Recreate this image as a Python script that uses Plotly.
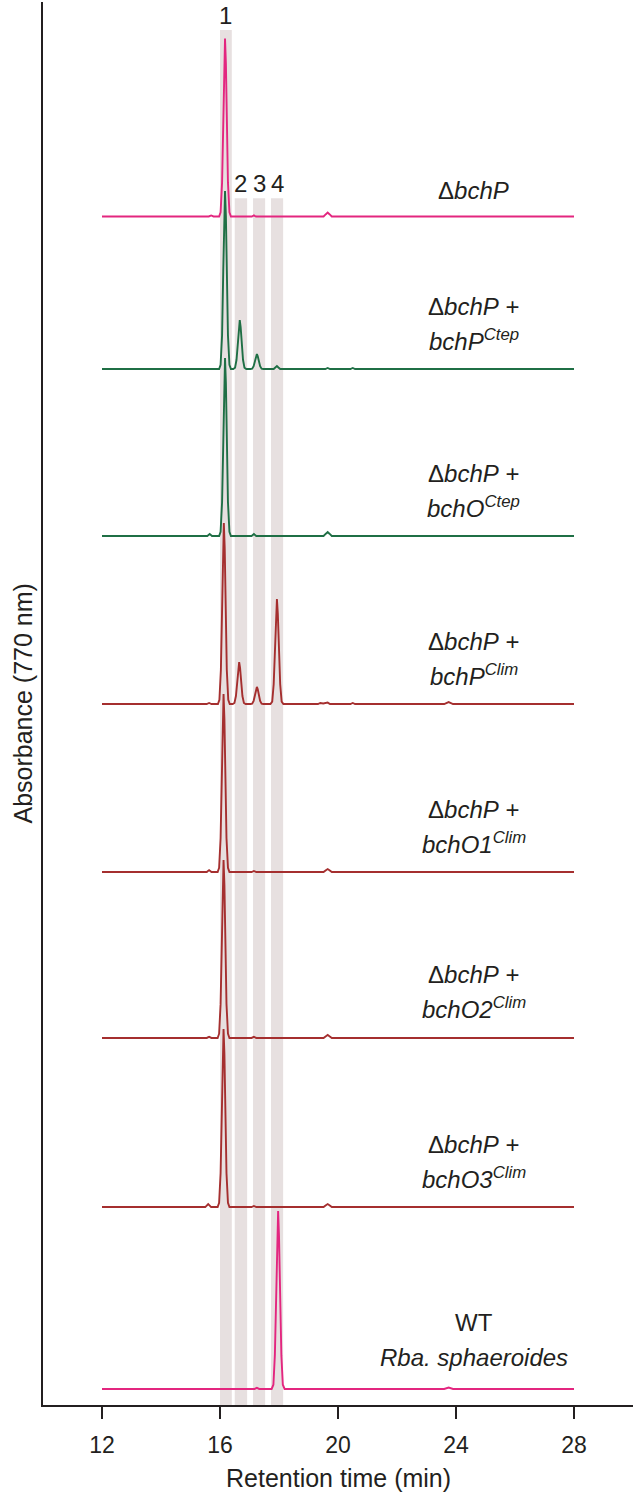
import plotly.graph_objects as go

# ---------------- data ----------------
# absorbance in relative units (main peak 1 of each trace ~ 100)
t_dbchP = [12, 15.62, 15.7, 15.78, 15.97, 16.02, 16.07, 16.11, 16.14, 16.17, 16.20, 16.23, 16.27, 16.32, 16.37,
           17.08, 17.15, 17.22, 19.51, 19.59, 19.65, 19.71, 19.79, 28]
a_dbchP = [0, 0, 0.6, 0, 0, 2.4, 19, 55, 86, 100, 86, 55, 19, 2.4, 0,
           0, 0.6, 0, 0, 1.3, 2.2, 1.3, 0, 0]

t_bchP_ctep = [12, 15.97, 16.02, 16.07, 16.11, 16.14, 16.17, 16.20, 16.23, 16.27, 16.32, 16.37,
               16.45, 16.51, 16.56, 16.60, 16.64, 16.67, 16.70, 16.74, 16.78, 16.83, 16.89,
               17.03, 17.09, 17.14, 17.18, 17.22, 17.25, 17.28, 17.32, 17.36, 17.41, 17.47,
               17.82, 17.88, 17.93, 17.98, 18.04, 19.57, 19.65, 19.73, 20.42, 20.5, 20.58, 28]
a_bchP_ctep = [0, 0, 2.4, 19, 55, 86, 100, 86, 55, 19, 2.4, 0,
               0, 0.7, 5.2, 15, 23.6, 27.5, 23.6, 15, 5.2, 0.7, 0,
               0, 0.2, 1.6, 4.6, 7.2, 8.4, 7.2, 4.6, 1.6, 0.2, 0,
               0, 0.9, 1.7, 0.9, 0, 0, 0.6, 0, 0, 0.6, 0, 0]

t_bchO_ctep = [12, 15.57, 15.65, 15.73, 15.97, 16.02, 16.07, 16.11, 16.14, 16.17, 16.20, 16.23, 16.27, 16.32, 16.37,
               17.07, 17.15, 17.23, 19.51, 19.59, 19.65, 19.71, 19.79, 28]
a_bchO_ctep = [0, 0, 1.1, 0, 0, 2.4, 19, 55, 86, 100, 86, 55, 19, 2.4, 0,
               0, 1.1, 0, 0, 1.3, 2.2, 1.3, 0, 0]

t_bchP_clim = [12, 15.55, 15.63, 15.71, 15.93, 15.98, 16.03, 16.07, 16.10, 16.13, 16.16, 16.19, 16.23, 16.28, 16.33,
               16.43, 16.49, 16.54, 16.58, 16.62, 16.65, 16.68, 16.72, 16.76, 16.81, 16.87,
               17.03, 17.09, 17.14, 17.18, 17.22, 17.25, 17.28, 17.32, 17.36, 17.41, 17.47,
               17.71, 17.77, 17.82, 17.86, 17.90, 17.93, 17.96, 18.00, 18.04, 18.09, 18.15,
               19.32, 19.4, 19.5, 19.57, 19.65, 19.73, 20.42, 20.5, 20.58, 23.6, 23.75, 23.9, 28]
a_bchP_clim = [0, 0, 0.6, 0, 0, 2.4, 19.3, 56, 87.5, 101.7, 87.5, 56, 19.3, 2.4, 0,
               0, 0.6, 4.5, 13, 20.3, 23.6, 20.3, 13, 4.5, 0.6, 0,
               0, 0.2, 1.8, 5.3, 8.3, 9.6, 8.3, 5.3, 1.8, 0.2, 0,
               0, 1.4, 11.2, 32.5, 50.7, 59, 50.7, 32.5, 11.2, 1.4, 0,
               0, 0.6, 0.3, 0.5, 0.8, 0, 0, 0.6, 0, 0, 1.1, 0, 0]

t_bchO1_clim = [12, 15.55, 15.63, 15.71, 15.92, 15.97, 16.02, 16.06, 16.09, 16.12, 16.15, 16.18, 16.22, 16.27, 16.32,
                17.07, 17.15, 17.23, 19.51, 19.59, 19.65, 19.71, 19.79, 28]
a_bchO1_clim = [0, 0, 1.1, 0, 0, 2.4, 19, 55, 86, 100, 86, 55, 19, 2.4, 0,
                0, 0.6, 0, 0, 1.0, 1.7, 1.0, 0, 0]

t_bchO2_clim = [12, 15.55, 15.63, 15.71, 15.92, 15.97, 16.02, 16.06, 16.09, 16.12, 16.15, 16.18, 16.22, 16.27, 16.32,
                17.07, 17.15, 17.23, 19.51, 19.59, 19.65, 19.71, 19.79, 28]
a_bchO2_clim = [0, 0, 0.6, 0, 0, 2.4, 19, 55, 86, 100, 86, 55, 19, 2.4, 0,
                0, 0.6, 0, 0, 1.0, 1.7, 1.0, 0, 0]

t_bchO3_clim = [12, 15.5, 15.6, 15.7, 15.92, 15.97, 16.02, 16.06, 16.09, 16.12, 16.15, 16.18, 16.22, 16.27, 16.32,
                17.07, 17.15, 17.23, 19.51, 19.59, 19.65, 19.71, 19.79, 28]
a_bchO3_clim = [0, 0, 1.7, 0, 0, 2.4, 19, 55, 86, 100, 86, 55, 19, 2.4, 0,
                0, 0.6, 0, 0, 1.0, 1.7, 1.0, 0, 0]

t_wt = [12, 17.17, 17.25, 17.33, 17.75, 17.81, 17.86, 17.90, 17.94, 17.97, 18.00, 18.04, 18.08, 18.13, 18.19,
        23.6, 23.75, 23.9, 28]
a_wt = [0, 0, 0.6, 0, 0, 2.4, 19, 55, 86, 100, 86, 55, 19, 2.4, 0,
        0, 0.8, 0, 0]

sample_line1 = ["Δ<i>bchP</i>", "Δ<i>bchP</i> +", "Δ<i>bchP</i> +", "Δ<i>bchP</i> +",
                "Δ<i>bchP</i> +", "Δ<i>bchP</i> +", "Δ<i>bchP</i> +", "WT"]
sample_line2 = [None, "<i>bchP<sup>Ctep</sup></i>", "<i>bchO<sup>Ctep</sup></i>", "<i>bchP<sup>Clim</sup></i>",
                "<i>bchO1<sup>Clim</sup></i>", "<i>bchO2<sup>Clim</sup></i>", "<i>bchO3<sup>Clim</sup></i>",
                "<i>Rba. sphaeroides</i>"]

band_start = [16.0, 16.5, 17.12, 17.73]
band_end = [16.4, 16.92, 17.53, 18.14]
band_labels = ["1", "2", "3", "4"]

x_ticks = [12, 16, 20, 24, 28]

# ---------------- styling / layout constants ----------------
PINK = "#e3267f"
GREEN = "#1f6f45"
RED = "#a52f2f"
BAND = "#e7e0e0"
INK = "#231f20"
FONT = "Liberation Sans, Arial, sans-serif"

traces = [
    (t_dbchP, a_dbchP, PINK),
    (t_bchP_ctep, a_bchP_ctep, GREEN),
    (t_bchO_ctep, a_bchO_ctep, GREEN),
    (t_bchP_clim, a_bchP_clim, RED),
    (t_bchO1_clim, a_bchO1_clim, RED),
    (t_bchO2_clim, a_bchO2_clim, RED),
    (t_bchO3_clim, a_bchO3_clim, RED),
    (t_wt, a_wt, PINK),
]
offsets = [667.7, 582.0, 488.2, 393.8, 299.4, 206.2, 111.2, 9.0]
band_tops = [772.5, 678, 678, 678]

W, H = 633, 1494
ML, MR, MT, MB = 43, 0, 2, 89
plot_h = H - MT - MB
Y_MAX = plot_h / 1.78

fig = go.Figure()
for (t, a, col), off in zip(traces, offsets):
    fig.add_trace(go.Scatter(x=t, y=[v + off for v in a], mode="lines",
                             line=dict(color=col, width=1.9), showlegend=False,
                             hoverinfo="skip"))

shapes = []
annotations = []
for s, e, top, lab in zip(band_start, band_end, band_tops, band_labels):
    shapes.append(dict(type="rect", xref="x", yref="y", x0=s, x1=e, y0=0, y1=top,
                       fillcolor=BAND, line=dict(width=0), layer="below"))
    annotations.append(dict(x=(s + e) / 2, y=top, xref="x", yref="y", text=lab,
                            showarrow=False, yanchor="bottom", xanchor="center", yshift=-1,
                            font=dict(family=FONT, size=24, color=INK)))

LABEL_X = 24.6
for i, (l1, l2, off) in enumerate(zip(sample_line1, sample_line2, offsets)):
    if l2 is None:
        annotations.append(dict(x=LABEL_X, y=off, xref="x", yref="y", text=l1, showarrow=False,
                                xanchor="center", yanchor="bottom", yshift=10.5,
                                font=dict(family=FONT, size=24, color=INK)))
    else:
        s2 = 16 if i == 7 else 12.5
        annotations.append(dict(x=LABEL_X, y=off, xref="x", yref="y", text=l2, showarrow=False,
                                xanchor="center", yanchor="bottom", yshift=s2,
                                font=dict(family=FONT, size=24, color=INK)))
        annotations.append(dict(x=LABEL_X, y=off, xref="x", yref="y", text=l1, showarrow=False,
                                xanchor="center", yanchor="bottom", yshift=s2 + 35,
                                font=dict(family=FONT, size=24, color=INK)))

# axis titles
annotations.append(dict(x=0.5, y=-(1462 - (H - MB)) / plot_h,
                        xref="paper", yref="paper", text="Retention time (min)", showarrow=False,
                        xanchor="center", yanchor="top",
                        font=dict(family=FONT, size=25, color=INK)))
annotations.append(dict(x=(22 - ML) / (W - ML - MR), y=0.5, xref="paper", yref="paper",
                        text="Absorbance (770 nm)", showarrow=False, textangle=-90,
                        xanchor="center", yanchor="middle",
                        font=dict(family=FONT, size=25, color=INK)))

fig.update_layout(
    width=W, height=H,
    margin=dict(l=ML, r=MR, t=MT, b=MB, pad=0),
    plot_bgcolor="white", paper_bgcolor="white",
    shapes=shapes, annotations=annotations,
    xaxis=dict(range=[10, 30], tickvals=x_ticks, ticktext=[str(v) for v in x_ticks],
               ticks="outside", ticklen=12, tickwidth=2, tickcolor=INK,
               showline=True, linecolor=INK, linewidth=2, showgrid=False, zeroline=False,
               tickfont=dict(family=FONT, size=23, color=INK), ticklabelstandoff=6),
    yaxis=dict(range=[0, Y_MAX], showticklabels=False, ticks="", showline=True,
               linecolor=INK, linewidth=2, showgrid=False, zeroline=False),
)

fig.write_html("out.html",
               config={"displayModeBar": False, "staticPlot": True},
               post_script="document.body.style.margin='0px';document.body.style.padding='0px';"
                           "document.documentElement.style.overflow='hidden';")
